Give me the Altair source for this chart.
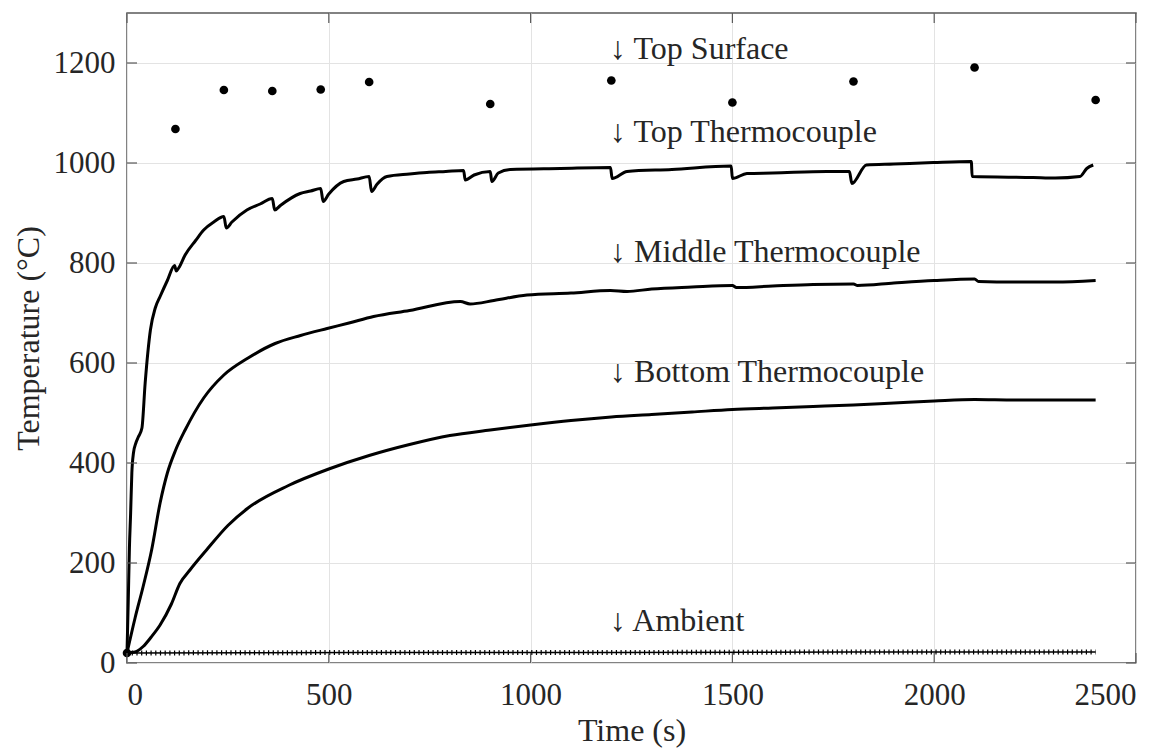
import altair as alt
import pandas as pd

# ---- data ----
surface_time = [0, 120, 240, 360, 480, 600, 900, 1200, 1500, 1800, 2100, 2400]
surface_temp = [20, 1068, 1146, 1144, 1147, 1162, 1118, 1165, 1121, 1163, 1191, 1126]

top_time = [0, 3, 6, 9, 12, 16, 22, 28, 37, 45, 58, 70, 82, 100, 118, 122, 128, 144, 170, 190,
            215, 240, 246, 260, 297, 330, 360, 366, 380, 429, 455, 480, 486, 500, 537, 570,
            600, 606, 620, 644, 700, 743, 790, 834, 838, 860, 900, 904, 920, 950, 1074, 1198,
            1202, 1239, 1350, 1497, 1500, 1536, 1600, 1734, 1790, 1796, 1832, 1900, 1998,
            2092, 2094, 2245, 2300, 2361, 2378, 2394]
top_temp = [20, 120, 230, 300, 380, 420, 440, 452, 470, 560, 666, 710, 733, 765, 795, 784, 790,
            816, 845, 866, 882, 893, 870, 882, 906, 918, 929, 906, 915, 939, 944, 949, 923, 938,
            963, 968, 973, 943, 958, 973, 978, 981, 983, 985, 966, 976, 983, 963, 980, 987, 989,
            991, 969, 983, 987, 994, 969, 979, 980, 983, 983, 959, 996, 998, 1001, 1003, 973,
            971, 970, 973, 989, 996]

mid_time = [0, 20, 40, 61, 82, 100, 120, 144, 190, 240, 300, 367, 430, 496, 550, 611, 700,
            826, 850, 909, 991, 1100, 1198, 1239, 1300, 1400, 1500, 1510, 1600, 1700, 1800,
            1810, 1900, 2000, 2100, 2110, 2200, 2300, 2400]
mid_temp = [20, 90, 153, 226, 320, 380, 425, 466, 530, 576, 610, 639, 655, 669, 680, 693, 705,
            723, 718, 725, 736, 740, 745, 743, 748, 752, 755, 751, 754, 757, 758, 755, 760, 765,
            768, 763, 762, 762, 765]

bot_time = [0, 20, 40, 60, 82, 110, 131, 156, 197, 250, 300, 400, 500, 600, 700, 800, 900,
            1000, 1100, 1200, 1300, 1400, 1500, 1600, 1700, 1800, 1900, 2000, 2100, 2200,
            2300, 2400]
bot_temp = [20, 22, 33, 52, 76, 118, 159, 186, 226, 275, 310, 355, 388, 415, 437, 455, 466,
            476, 485, 492, 497, 502, 507, 510, 513, 516, 520, 524, 527, 526, 526, 526]

amb_time = [0, 600, 1200, 1800, 2400]
amb_temp = [20, 21, 21, 22, 22]

label_text = ["↓ Top Surface", "↓ Top Thermocouple", "↓ Middle Thermocouple",
              "↓ Bottom Thermocouple", "↓ Ambient"]
label_time = [1197, 1197, 1197, 1197, 1197]
label_temp = [1228, 1062, 822, 582, 84]

x_ticks = [0, 500, 1000, 1500, 2000, 2500]
y_ticks = [0, 200, 400, 600, 800, 1000, 1200]

W, H = 1009, 650
FONT = "Liberation Serif"
TXT = "#262626"

surface = pd.DataFrame({"t": surface_time, "T": surface_temp})
lines = pd.concat([
    pd.DataFrame({"t": top_time, "T": top_temp, "s": "top"}),
    pd.DataFrame({"t": mid_time, "T": mid_temp, "s": "mid"}),
    pd.DataFrame({"t": bot_time, "T": bot_temp, "s": "bot"}),
])
amb = pd.DataFrame({"t": amb_time, "T": amb_temp})
labels = pd.DataFrame({"t": label_time, "T": label_temp, "text": label_text})
xt = pd.DataFrame({"v": x_ticks})
yt = pd.DataFrame({"v": y_ticks})

xscale = alt.Scale(domain=[0, 2500], nice=False)
yscale = alt.Scale(domain=[0, 1300], nice=False)

X = alt.X("t:Q", scale=xscale, title="Time (s)",
          axis=alt.Axis(values=x_ticks, format="d", grid=True, gridColor="#e3e3e3", tickSize=0,
                        labelFont=FONT, labelFontSize=31, labelColor=TXT, labelPadding=17,
                        titleFont=FONT, titleFontSize=32, titleColor=TXT, titleFontWeight="normal",
                        titlePadding=5, domain=False))
Y = alt.Y("T:Q", scale=yscale, title="Temperature (°C)",
          axis=alt.Axis(values=y_ticks, format="d", grid=True, gridColor="#e3e3e3", tickSize=0,
                        labelFont=FONT, labelFontSize=31, labelColor=TXT, labelPadding=12,
                        titleFont=FONT, titleFontSize=32, titleColor=TXT, titleFontWeight="normal",
                        titlePadding=8, domain=False))

base_lines = alt.Chart(lines).mark_line(color="black", strokeWidth=3, interpolate="monotone").encode(
    x=X, y=Y, detail="s:N", order="t:Q")

amb_line = alt.Chart(amb).mark_line(color="black", strokeWidth=1.5).encode(
    x=alt.X("t:Q", scale=xscale), y=alt.Y("T:Q", scale=yscale))
amb_marks = alt.Chart(amb).mark_line(color="black", strokeWidth=5, strokeDash=[1.2, 3.5]).encode(
    x=alt.X("t:Q", scale=xscale), y=alt.Y("T:Q", scale=yscale))

pts = alt.Chart(surface).mark_circle(color="black", opacity=1, size=75).encode(
    x=alt.X("t:Q", scale=xscale), y=alt.Y("T:Q", scale=yscale))

txt = alt.Chart(labels).mark_text(align="left", baseline="middle", font=FONT, fontSize=32,
                                  color=TXT).encode(
    x=alt.X("t:Q", scale=xscale), y=alt.Y("T:Q", scale=yscale), text="text:N")

tick_col = "#5a5a5a"
yl = alt.Chart(yt).mark_rule(color=tick_col, strokeWidth=1.2).encode(
    x=alt.value(0), x2=alt.value(10), y=alt.Y("v:Q", scale=yscale))
yr = alt.Chart(yt).mark_rule(color=tick_col, strokeWidth=1.2).encode(
    x=alt.value(W - 10), x2=alt.value(W), y=alt.Y("v:Q", scale=yscale))
xb = alt.Chart(xt).mark_rule(color=tick_col, strokeWidth=1.2).encode(
    y=alt.value(H), y2=alt.value(H - 10), x=alt.X("v:Q", scale=xscale))
xtop = alt.Chart(xt).mark_rule(color=tick_col, strokeWidth=1.2).encode(
    y=alt.value(0), y2=alt.value(10), x=alt.X("v:Q", scale=xscale))

chart = alt.layer(base_lines, amb_line, amb_marks, pts, txt, yl, yr, xb, xtop).properties(
    width=W, height=H,
    autosize=alt.AutoSizeParams(type="none"),
    padding={"left": 119, "top": 5, "right": 30, "bottom": 88},
    background="white",
).configure_view(stroke="#5a5a5a", strokeWidth=1.5)

chart.save("out.html", embed_options={"renderer": "svg", "actions": False})
